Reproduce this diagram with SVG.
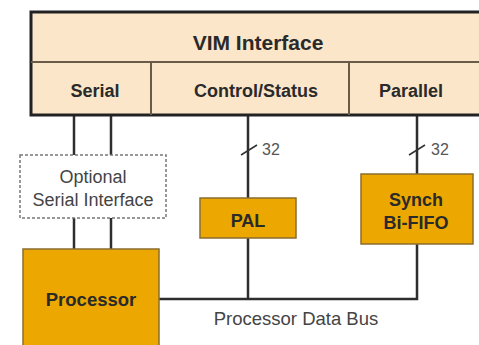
<svg xmlns="http://www.w3.org/2000/svg" width="479" height="345" viewBox="0 0 479 345">
<style>
.bold{font-family:"Liberation Sans",Arial,sans-serif;font-weight:bold;fill:#2a2a2a;text-anchor:middle}
.reg{font-family:"Liberation Sans",Arial,sans-serif;fill:#444;text-anchor:middle}
.num{font-family:"Liberation Sans",Arial,sans-serif;fill:#555;font-size:16px}
.orange{fill:#eca800;stroke:#8c6d2c;stroke-width:1.5}
.wire{stroke:#2e2e2e;stroke-width:2.5;fill:none}
.div{stroke:#6a5a48;stroke-width:2}
.slash{stroke:#333;stroke-width:1.5}
</style>
<rect width="479" height="345" fill="#ffffff"/>
<g id="connectors">
<line class="wire" x1="74" y1="115" x2="74" y2="155"/>
<line class="wire" x1="111" y1="115" x2="111" y2="155"/>
<line class="wire" x1="74" y1="218" x2="74" y2="249"/>
<line class="wire" x1="111" y1="218" x2="111" y2="249"/>
<polyline class="wire" points="159,299 417,299 417,115"/>
<line class="wire" x1="248" y1="115" x2="248" y2="299"/>
<line class="slash" x1="241" y1="155" x2="257" y2="145"/>
<text class="num" x="262" y="155">32</text>
<line class="slash" x1="409" y1="155" x2="425" y2="145"/>
<text class="num" x="431" y="155">32</text>
<text class="reg" x="296" y="325" font-size="18.5">Processor Data Bus</text>
</g>
<g id="vim">
<rect x="31" y="12" width="460" height="103" fill="#fbe6c9" stroke="#222" stroke-width="3"/>
<line class="div" x1="31" y1="62" x2="479" y2="62"/>
<line class="div" x1="151" y1="62" x2="151" y2="115"/>
<line class="div" x1="349" y1="62" x2="349" y2="115"/>
<text class="bold" x="258" y="50" font-size="21">VIM Interface</text>
<text class="bold" x="95" y="97" font-size="18">Serial</text>
<text class="bold" x="256" y="97" font-size="18">Control/Status</text>
<text class="bold" x="411" y="97" font-size="18">Parallel</text>
</g>
<g id="serial-if">
<rect x="20" y="155" width="146" height="63" fill="#fff" stroke="#777" stroke-width="1.5" stroke-dasharray="3,2"/>
<text class="reg" x="93" y="183" font-size="18">Optional</text>
<text class="reg" x="93" y="206" font-size="18">Serial Interface</text>
</g>
<g id="processor">
<rect class="orange" x="23" y="249" width="136" height="100"/>
<text class="bold" x="91" y="306" font-size="18.5">Processor</text>
</g>
<g id="pal">
<rect class="orange" x="200" y="198" width="96" height="40"/>
<text class="bold" x="248" y="227" font-size="18">PAL</text>
</g>
<g id="fifo">
<rect class="orange" x="361" y="174" width="112" height="70"/>
<text class="bold" x="416" y="206" font-size="18">Synch</text>
<text class="bold" x="416" y="229" font-size="18">Bi-FIFO</text>
</g>
</svg>
